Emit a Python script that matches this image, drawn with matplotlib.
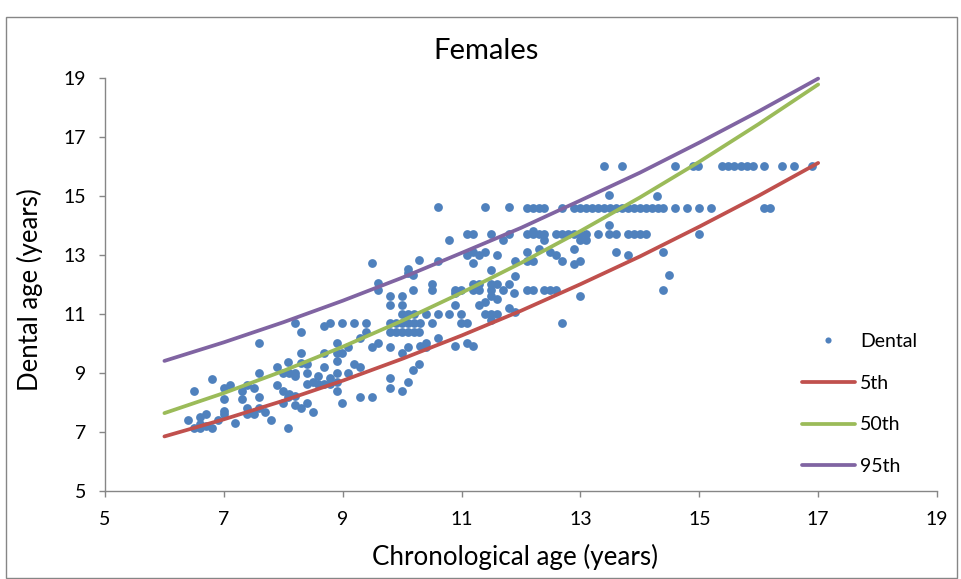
import matplotlib
matplotlib.use("Agg")
import matplotlib.pyplot as plt
from matplotlib.patches import Rectangle

plt.rcParams['font.family'] = ['Lato', 'DejaVu Sans']

title = "Females"
xlabel = "Chronological age (years)"
ylabel = "Dental age (years)"
x_ticks = [5, 7, 9, 11, 13, 15, 17, 19]
y_ticks = [5, 7, 9, 11, 13, 15, 17, 19]

# percentile curves (read at whole years)
curve_age = [6, 7, 8, 9, 10, 11, 12, 13, 14, 15, 16, 17]
p5 = [6.85, 7.43, 8.06, 8.74, 9.48, 10.27, 11.11, 12.01, 12.95, 13.96, 15.01, 16.12]
p50 = [7.64, 8.32, 9.07, 9.89, 10.77, 11.72, 12.73, 13.81, 14.95, 16.16, 17.44, 18.78]
p95 = [9.41, 10.04, 10.72, 11.45, 12.23, 13.07, 13.92, 14.85, 15.79, 16.81, 17.87, 18.98]

# scattered dental observations (age, dental age)
scat_x = [7.59, 6.80, 6.50, 7.00, 7.10, 7.31, 7.39, 7.51, 7.59, 7.59, 7.89, 8.00, 8.08, 7.89, 8.00,
          8.08, 8.00, 7.00, 7.31, 7.00, 7.00, 7.39, 7.39, 7.51, 7.59, 7.69, 7.79, 7.19, 6.90, 6.70,
          6.60, 6.40, 6.60, 6.70, 6.80, 6.50, 6.60, 8.08,
          9.49, 10.10, 10.10, 10.18, 10.28, 9.59, 9.59, 9.80, 10.00, 9.80, 10.00, 10.18,
          8.20, 8.30, 8.68, 9.39, 9.29,
          9.80, 10.10, 10.30, 10.40, 10.40, 10.00, 10.18, 10.28, 10.10, 9.80, 9.80, 10.00, 9.49, 9.59,
          9.09, 8.90, 8.99, 8.90, 8.68, 8.30, 8.90, 8.68, 9.19, 9.29, 9.09, 8.90, 8.30, 8.40, 8.40,
          8.10, 8.20, 8.20, 8.58, 8.50, 8.40, 8.58, 8.68, 8.79, 8.79, 8.90, 8.90, 8.10, 8.20, 8.20,
          8.30, 8.40, 8.50, 8.99, 9.29, 9.49,
          10.60, 11.39, 11.80, 10.79, 11.09, 11.19, 11.50, 11.80, 11.70, 11.09, 11.19, 11.29, 11.39,
          11.60, 12.10, 12.10, 11.90, 11.19, 11.50, 11.90, 10.60, 10.50, 10.50, 10.89, 10.99, 10.89,
          11.19, 11.29, 11.19, 11.29, 11.50, 11.60, 11.50, 11.80, 11.70, 11.50, 11.60, 11.39, 11.29,
          10.89, 11.88, 11.39, 11.50, 11.60, 11.50, 11.80, 11.90, 10.60, 10.89, 11.09, 11.19,
          12.20, 13.48, 14.29, 13.48, 12.39, 12.99, 13.09, 12.30, 12.49, 12.59, 12.89, 12.20, 12.69,
          12.99, 12.89, 13.60, 13.80, 14.39, 14.49, 14.39, 12.99, 12.69]
scat_y = [10.02, 8.80, 8.39, 8.49, 8.59, 8.39, 8.59, 8.49, 8.19, 9.00, 9.20, 9.00, 9.37, 8.59, 8.39,
          8.19, 7.98, 8.12, 8.12, 7.71, 7.61, 7.81, 7.61, 7.61, 7.81, 7.68, 7.41, 7.31, 7.41, 7.61,
          7.51, 7.41, 7.27, 7.20, 7.14, 7.14, 7.14, 7.14,
          12.73, 12.53, 12.39, 12.32, 12.83, 12.05, 11.81, 11.61, 11.61, 11.31, 11.31, 11.81,
          10.69, 10.39, 10.59, 10.39, 10.19,
          9.88, 9.88, 9.90, 10.02, 9.88, 9.68, 9.10, 9.31, 8.69, 8.83, 8.49, 8.39, 9.88, 10.02,
          9.88, 10.02, 9.68, 9.68, 9.68, 9.68, 9.41, 9.20, 9.31, 9.20, 9.00, 9.00, 9.34, 9.31, 9.00,
          9.00, 9.00, 8.90, 8.90, 8.69, 8.63, 8.63, 8.63, 8.83, 8.63, 8.69, 8.39, 8.29, 8.22, 7.92,
          7.81, 7.98, 7.68, 7.98, 8.19, 8.19,
          14.63, 14.63, 14.63, 13.51, 13.71, 13.71, 13.71, 13.71, 13.51, 13.00, 13.10, 13.00, 13.10,
          13.00, 13.10, 12.80, 12.80, 12.73, 12.49, 12.29, 12.80, 12.02, 11.81, 11.81, 11.81, 11.71,
          12.02, 12.02, 11.81, 11.81, 12.02, 12.02, 11.81, 12.02, 11.81, 11.61, 11.51, 11.41, 11.31,
          11.31, 11.71, 11.00, 11.00, 11.00, 10.80, 11.20, 11.07, 10.19, 9.91, 10.02, 9.91,
          13.81, 15.03, 15.00, 14.02, 13.51, 13.51, 13.51, 13.20, 13.10, 13.00, 13.20, 12.80, 12.80,
          12.80, 12.69, 13.10, 13.00, 13.10, 12.32, 11.81, 11.61, 10.69]

# observations lying on repeated dental-age levels
row_levels = [16.02, 14.59, 13.71, 11.81, 11.00, 10.69, 10.39]
row_ages = [
    [13.40, 13.70, 14.59, 14.89, 14.98, 15.38, 15.48, 15.58, 15.70, 15.80, 15.90, 16.09, 16.39, 16.59, 16.90],
    [12.10, 12.20, 12.30, 12.39, 12.69, 12.89, 12.99, 13.09, 13.19, 13.30, 13.40, 13.50, 13.60, 13.70,
     13.80, 13.90, 14.00, 14.10, 14.20, 14.30, 14.39, 14.59, 14.79, 14.99, 15.20, 16.09, 16.19],
    [12.10, 12.20, 12.30, 12.39, 12.59, 12.69, 12.79, 12.89, 12.99, 13.09, 13.30, 13.48, 13.60, 13.80,
     13.90, 14.00, 14.10, 14.99],
    [12.10, 12.20, 12.39, 12.49, 12.59],
    [10.00, 10.10, 10.20, 10.40, 10.60, 10.79, 10.99],
    [8.79, 8.99, 9.19, 9.39, 9.80, 9.90, 10.00, 10.10, 10.20, 10.30, 10.50, 10.99, 11.09],
    [9.80, 9.90, 10.00, 10.10, 10.20, 10.28],
]

dental_x = list(scat_x)
dental_y = list(scat_y)
for lvl, ages in zip(row_levels, row_ages):
    dental_x += ages
    dental_y += [lvl] * len(ages)

W, H = 961, 579
fig = plt.figure(figsize=(W / 100, H / 100), dpi=100)
ax = fig.add_axes([105 / W, (H - 491) / H, (937 - 105) / W, (491 - 78) / H])

blue = '#4F81BD'
red = '#C0504D'
green = '#9BBB59'
purple = '#8064A2'
grey = '#868686'

ax.scatter(dental_x, dental_y, s=40, color=blue, linewidths=0, zorder=2, label='Dental')
ax.plot(curve_age, p5, color=red, lw=2.7, zorder=3, label='5th', solid_capstyle='round', clip_on=False)
ax.plot(curve_age, p50, color=green, lw=2.7, zorder=3, label='50th', solid_capstyle='round', clip_on=False)
ax.plot(curve_age, p95, color=purple, lw=2.7, zorder=3, label='95th', solid_capstyle='round', clip_on=False)

ax.set_xlim(5, 19)
ax.set_ylim(5, 19)
ax.set_xticks(x_ticks)
ax.set_yticks(y_ticks)
for s in ['top', 'right']:
    ax.spines[s].set_visible(False)
for s in ['left', 'bottom']:
    ax.spines[s].set_color(grey)
    ax.spines[s].set_linewidth(1.0)
ax.tick_params(axis='both', direction='out', length=4.5, width=1.0, color=grey,
               labelsize=14, labelcolor='black')
ax.tick_params(axis='y', pad=9)
ax.tick_params(axis='x', pad=10)

leg = ax.legend(loc='upper left', bbox_to_anchor=(802 / W, 1 - 333 / H), bbox_transform=fig.transFigure,
                frameon=False, fontsize=14, handlelength=2.7, handletextpad=0.3, labelspacing=1.27,
                borderpad=0, borderaxespad=0, scatteryoffsets=[0.5], markerscale=0.7)

fig.text(486 / W, 1 - 51 / H, title, ha='center', va='center', fontsize=21)
fig.text(515 / W, 1 - 557 / H, xlabel, ha='center', va='center', fontsize=18.7)
fig.text(30 / W, 1 - 290 / H, ylabel, ha='center', va='center', fontsize=18.5, rotation=90)

fig.add_artist(Rectangle((6 / W, 1 / H), (957 - 6) / W, (578 - 17) / H, transform=fig.transFigure,
                         fill=False, edgecolor=grey, linewidth=1.0))

fig.savefig('out.png', dpi=100)
